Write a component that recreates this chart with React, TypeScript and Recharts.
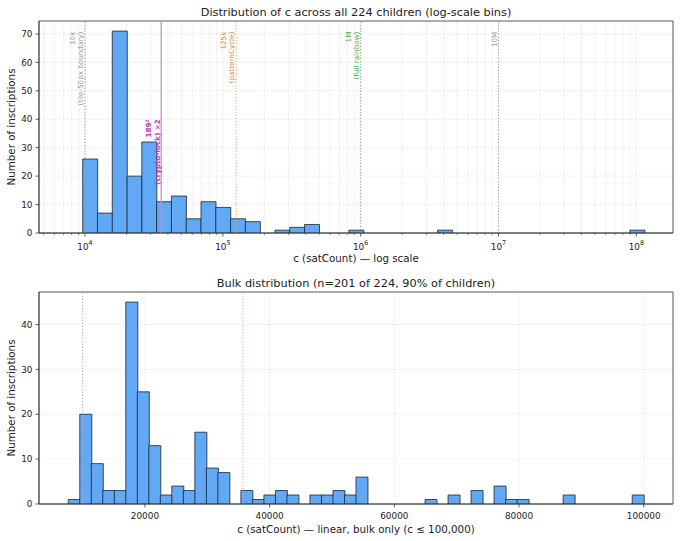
import React from 'react';
import { ComposedChart, Bar, XAxis, YAxis, CartesianGrid, ReferenceLine, ReferenceArea } from 'recharts';

const FONT = '"DejaVu Sans", Verdana, sans-serif';

// ---------- Top panel: log-spaced bins ----------
const logBinLow = 9620;
const logBinHigh = 1.15e8;
const logBinCounts = [
  26, 7, 71, 20, 32, 11, 13, 5, 11, 9,
  5, 4, 0, 1, 2, 3, 0, 0, 1, 0,
  0, 0, 0, 0, 1, 0, 0, 0, 0, 0,
  0, 0, 0, 0, 0, 0, 0, 1,
];
const logMajorTicks = [1e4, 1e5, 1e6, 1e7, 1e8];
const logMinorMultipliers = [2, 3, 4, 5, 6, 7, 8, 9];
const logMinorDecades = [1e3, 1e4, 1e5, 1e6, 1e7];
const logXDomain = [4638, 1.845e8];
const topYTicks = [0, 10, 20, 30, 40, 50, 60, 70];
const topYMax = 74.55;

const topMarkers = [
  { x: 10000, lines: ['10k', '(tile-50px boundary)'], stroke: '#9c9c9c', color: '#9c9c9c', dash: '1.2 1.8', width: 1, labelY: 70.8, bold: false },
  { x: 35721, lines: ['189²', '(crypto-lock) ×2'], stroke: '#d088d0', color: '#c23cb4', dash: undefined, width: 1.3, labelY: 40, bold: true },
  { x: 125000, lines: ['125k', '(patternCycle)'], stroke: '#eca26a', color: '#d98a4a', dash: '1.2 1.8', width: 1, labelY: 70.8, bold: false },
  { x: 1000000, lines: ['1M', '(full rainbow)'], stroke: '#6cc06c', color: '#4caf4c', dash: '1.2 1.8', width: 1, labelY: 70.8, bold: false },
  { x: 10000000, lines: ['10M'], stroke: '#ababab', color: '#a0a0a0', dash: '1.2 1.8', width: 1, labelY: 70.8, bold: false },
];

// ---------- Bottom panel: linear bins ----------
const linBinLow = 7700;
const linBinHigh = 100000;
const linBinCounts = [
  1, 20, 9, 3, 3, 45, 25, 13, 2, 4,
  3, 16, 8, 7, 0, 3, 1, 2, 3, 2,
  0, 2, 2, 3, 2, 6, 0, 0, 0, 0,
  0, 1, 0, 2, 0, 3, 0, 4, 1, 1,
  0, 0, 0, 2, 0, 0, 0, 0, 0, 2,
];
const linXTicks = [20000, 40000, 60000, 80000, 100000];
const linXDomain = [3006, 104700];
const bottomYTicks = [0, 10, 20, 30, 40];
const bottomYMax = 47.25;

const bottomMarkers = [
  { x: 10000, stroke: '#b4aabb', dash: '1.2 1.8', width: 1 },
  { x: 35721, stroke: '#ea9cd8', dash: '1.2 1.8', width: 1 },
];

// ---------- derived tables ----------
const logRatio = Math.pow(logBinHigh / logBinLow, 1 / logBinCounts.length);
const topData = logBinCounts.map((count, i) => ({
  x: logBinLow * Math.pow(logRatio, i + 0.5),
  count,
}));
const logMinorTicks: number[] = [];
logMinorDecades.forEach((d) =>
  logMinorMultipliers.forEach((m) => {
    const v = d * m;
    if (v >= logXDomain[0] && v <= logXDomain[1]) logMinorTicks.push(v);
  })
);
const logAllTicks = [...logMajorTicks, ...logMinorTicks].sort((a, b) => a - b);

const linWidth = (linBinHigh - linBinLow) / linBinCounts.length;
const bottomData = linBinCounts.map((count, i) => ({
  x: linBinLow + linWidth * (i + 0.5),
  count,
}));

const TEXT = '#222';
const SPINE = '#3a3a3a';
const TICK_FS = 8.9;
const LABEL_FS = 10.3;
const NOTE_FS = 7.2;

const LogTick = (props: any) => {
  const { x, y, payload } = props;
  const v = payload.value;
  const exp = Math.round(Math.log10(v));
  const isMajor = Math.abs(v - Math.pow(10, exp)) < 1e-6 * v;
  return (
    <g>
      <line x1={x} x2={x} y1={y} y2={y + (isMajor ? 3.5 : 2)} stroke={SPINE} strokeWidth={isMajor ? 0.8 : 0.6} />
      {isMajor && (
        <text x={x} y={y + 16.6} textAnchor="middle" fontSize={TICK_FS} fill={TEXT} fontFamily={FONT}>
          10
          <tspan dy={-4.2} fontSize={6.4}>{exp}</tspan>
        </text>
      )}
    </g>
  );
};

const LinTick = (props: any) => {
  const { x, y, payload } = props;
  return (
    <g>
      <line x1={x} x2={x} y1={y} y2={y + 3.5} stroke={SPINE} strokeWidth={0.8} />
      <text x={x} y={y + 15.3} textAnchor="middle" fontSize={TICK_FS} fill={TEXT} fontFamily={FONT}>
        {payload.value}
      </text>
    </g>
  );
};

const YLabel = (props: any) => {
  const { viewBox, text } = props;
  if (!viewBox) return null;
  const cx = viewBox.x + 14.8;
  const cy = viewBox.y + viewBox.height / 2;
  return (
    <text x={cx} y={cy} transform={`rotate(-90 ${cx} ${cy})`} textAnchor="middle" fontSize={LABEL_FS} fill={TEXT} fontFamily={FONT}>
      {text}
    </text>
  );
};

const XLabel = (props: any) => {
  const { viewBox, text } = props;
  if (!viewBox) return null;
  const cx = viewBox.x + viewBox.width / 2;
  const cy = viewBox.y + 28.6;
  return (
    <text x={cx} y={cy} textAnchor="middle" fontSize={LABEL_FS} fill={TEXT} fontFamily={FONT}>
      {text}
    </text>
  );
};

const MarkerLabel = (props: any) => {
  const { viewBox, lines, color, labelY, yMax, bold } = props;
  if (!viewBox) return null;
  const { x, y, height } = viewBox;
  const py = y + height * (1 - labelY / yMax);
  const gap = 8.4;
  const n = lines.length;
  return (
    <g>
      {lines.map((t: string, i: number) => {
        const bx = x - 1.7 - (n - 1 - i) * gap;
        return (
          <text
            key={i}
            x={bx}
            y={py}
            transform={`rotate(-90 ${bx} ${py})`}
            textAnchor="end"
            fontSize={NOTE_FS}
            fill={color}
            fontWeight={bold ? 'bold' : 'normal'}
            fontFamily={FONT}
          >
            {t}
          </text>
        );
      })}
    </g>
  );
};

const gridProps = {
  stroke: '#b8b8b8',
  strokeOpacity: 0.5,
  strokeDasharray: '2.5 1.5',
  strokeWidth: 0.6,
};

const titleStyle = (top: number): React.CSSProperties => ({
  position: 'absolute',
  left: 39,
  width: 634,
  top,
  textAlign: 'center',
  fontFamily: FONT,
  fontSize: 11.3,
  color: TEXT,
  lineHeight: '13px',
  whiteSpace: 'nowrap',
});

export default function App() {
  return (
    <div style={{ position: 'absolute', left: 0, top: 0, width: 680, height: 541, background: '#fff' }}>
      <div style={titleStyle(6)}>Distribution of c across all 224 children (log-scale bins)</div>
      <div style={{ position: 'absolute', left: 0, top: 0 }}>
        <ComposedChart
          width={680}
          height={270}
          data={topData}
          margin={{ top: 21, right: 7, left: 0, bottom: 0 }}
          barCategoryGap={0}
          barGap={0}
        >
          <CartesianGrid {...gridProps} />
          <XAxis
            dataKey="x"
            type="number"
            scale="log"
            domain={logXDomain}
            allowDataOverflow
            ticks={logAllTicks}
            interval={0}
            tick={<LogTick />}
            tickLine={false}
            tickSize={0}
            tickMargin={0}
            height={37}
            axisLine={{ stroke: SPINE, strokeWidth: 0.8 }}
            label={<XLabel text="c (satCount) — log scale" />}
          />
          <YAxis
            type="number"
            domain={[0, topYMax]}
            allowDataOverflow
            ticks={topYTicks}
            interval={0}
            width={39}
            tickSize={3.5}
            tickMargin={3}
            tick={{ fontSize: TICK_FS, fill: TEXT, fontFamily: FONT }}
            tickLine={{ stroke: SPINE, strokeWidth: 0.8 }}
            axisLine={{ stroke: SPINE, strokeWidth: 0.8 }}
            label={<YLabel text="Number of inscriptions" />}
          />
          <Bar dataKey="count" fill="#61a8f5" stroke="#1c2330" strokeWidth={0.8} isAnimationActive={false} />
          {topMarkers.map((m) => (
            <ReferenceLine
              key={m.x}
              x={m.x}
              stroke={m.stroke}
              strokeWidth={m.width}
              strokeDasharray={m.dash}
              label={<MarkerLabel lines={m.lines} color={m.color} labelY={m.labelY} yMax={topYMax} bold={m.bold} />}
            />
          ))}
          <ReferenceArea x1={logXDomain[0]} x2={logXDomain[1]} y1={0} y2={topYMax} fill="none" stroke={SPINE} strokeWidth={0.8} />
        </ComposedChart>
      </div>

      <div style={titleStyle(277)}>Bulk distribution (n=201 of 224, 90% of children)</div>
      <div style={{ position: 'absolute', left: 0, top: 270 }}>
        <ComposedChart
          width={680}
          height={271}
          data={bottomData}
          margin={{ top: 22, right: 7, left: 0, bottom: 0 }}
          barCategoryGap={0}
          barGap={0}
        >
          <CartesianGrid {...gridProps} />
          <XAxis
            dataKey="x"
            type="number"
            domain={linXDomain}
            allowDataOverflow
            ticks={linXTicks}
            interval={0}
            tick={<LinTick />}
            tickLine={false}
            tickSize={0}
            tickMargin={0}
            height={37}
            axisLine={{ stroke: SPINE, strokeWidth: 0.8 }}
            label={<XLabel text="c (satCount) — linear, bulk only (c ≤ 100,000)" />}
          />
          <YAxis
            type="number"
            domain={[0, bottomYMax]}
            allowDataOverflow
            ticks={bottomYTicks}
            interval={0}
            width={39}
            tickSize={3.5}
            tickMargin={3}
            tick={{ fontSize: TICK_FS, fill: TEXT, fontFamily: FONT }}
            tickLine={{ stroke: SPINE, strokeWidth: 0.8 }}
            axisLine={{ stroke: SPINE, strokeWidth: 0.8 }}
            label={<YLabel text="Number of inscriptions" />}
          />
          <Bar dataKey="count" fill="#61a8f5" stroke="#1c2330" strokeWidth={0.8} isAnimationActive={false} />
          {bottomMarkers.map((m) => (
            <ReferenceLine key={m.x} x={m.x} stroke={m.stroke} strokeWidth={m.width} strokeDasharray={m.dash} />
          ))}
          <ReferenceArea x1={linXDomain[0]} x2={linXDomain[1]} y1={0} y2={bottomYMax} fill="none" stroke={SPINE} strokeWidth={0.8} />
        </ComposedChart>
      </div>
    </div>
  );
}
